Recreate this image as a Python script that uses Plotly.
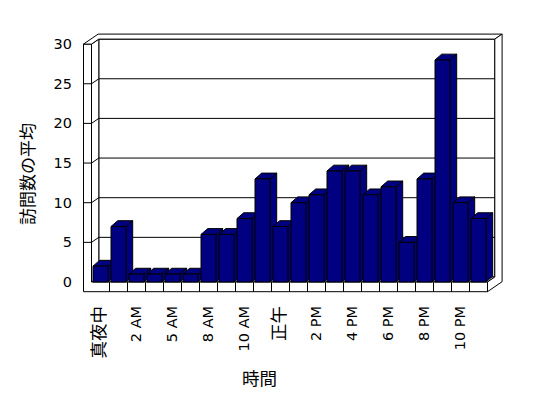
import plotly.graph_objects as go

# ---------------- data ----------------
categories = ["真夜中", "1 AM", "2 AM", "3 AM", "5 AM", "6 AM", "8 AM", "9 AM",
              "10 AM", "11 AM", "正午", "1 PM", "2 PM", "3 PM", "4 PM", "5 PM",
              "6 PM", "7 PM", "8 PM", "9 PM", "10 PM", "11 PM"]
visits = [2, 7, 1, 1, 1, 1, 6, 6, 8, 13, 7, 10, 11, 14, 14, 11, 12, 5, 13, 28, 10, 8]
y_ticks = [0, 5, 10, 15, 20, 25, 30]
x_title = "時間"
y_title = "訪問数の平均"

# ---------------- styling / geometry ----------------
BAR = "#000080"
EDGE = "black"
W, H = 548, 398
ML, MR, MT, MB = 81, 44, 32, 104
PX_CAT = 18.0            # pixels per category
PX_VAL = 7.93            # pixels per value unit
CAT0_PX = 100.5          # pixel centre of first category
ZERO_PX = 282.0          # pixel row of value 0 on the front plane

XL = (ML - CAT0_PX) / PX_CAT
XR = (W - MR - CAT0_PX) / PX_CAT
YT = (ZERO_PX - MT) / PX_VAL
YB = -((H - MB) - ZERO_PX) / PX_VAL

n = len(categories)
xs = list(range(n))
F0, F1 = -0.5, n - 0.5            # front plane extent
WL = F0 - 8 / PX_CAT              # left wall outer edge
FB = -9.7 / PX_VAL                # floor bottom
VT = max(y_ticks)                 # wall top
dx, dy = 7.3 / PX_CAT, 5.0 / PX_VAL        # wall depth
bdx, bdy = 6.7 / PX_CAT, 5.8 / PX_VAL      # bar depth
hw = 7.5 / PX_CAT                 # bar half width


def poly(pts, fill="white"):
    d = "M " + " L ".join(f"{x:.4f},{y:.4f}" for x, y in pts) + " Z"
    return dict(type="path", path=d, xref="x", yref="y", layer="below",
                fillcolor=fill, line=dict(color=EDGE, width=1))


def pline(pts):
    d = "M " + " L ".join(f"{x:.4f},{y:.4f}" for x, y in pts)
    return dict(type="path", path=d, xref="x", yref="y", layer="below",
                line=dict(color=EDGE, width=1))


shapes = []
shapes.append(poly([(F0 + dx, dy), (F1 + dx, dy), (F1 + dx, VT + dy), (F0 + dx, VT + dy)]))
shapes.append(poly([(F0, 0), (F1, 0), (F1 + dx, dy), (F0 + dx, dy)]))
shapes.append(poly([(F0, 0), (F0, VT), (F0 + dx, VT + dy), (F0 + dx, dy)]))
shapes.append(poly([(WL, FB), (WL, VT), (F0, VT), (F0, 0), (F1, 0), (F1, FB)]))
shapes.append(poly([(WL, VT), (F0, VT), (F0 + dx, VT + dy), (F1 + dx, VT + dy),
                    (F1 + 2 * dx, VT + 2 * dy), (WL + 2 * dx, VT + 2 * dy)]))
shapes.append(poly([(F1, 0), (F1, FB), (F1 + 2 * dx, FB + 2 * dy), (F1 + 2 * dx, VT + 2 * dy),
                    (F1 + dx, VT + dy), (F1 + dx, dy)]))
for v in y_ticks:
    if 0 < v < VT:
        shapes.append(pline([(WL, v), (F0, v), (F0 + dx, v + dy), (F1 + dx, v + dy)]))
for i in range(n - 1):
    shapes.append(pline([(i + 0.5, FB), (i + 0.5, 0)]))
for i, v in zip(xs, visits):
    shapes.append(poly([(i + hw, 0), (i + hw + bdx, bdy), (i + hw + bdx, v + bdy), (i + hw, v)], BAR))
    shapes.append(poly([(i - hw, v), (i + hw, v), (i + hw + bdx, v + bdy), (i - hw + bdx, v + bdy)], BAR))


def lab(t):
    if any(ord(c) > 0x3000 for c in t):
        return f'<span style="font-size:17.5px;fill:black">{t}</span>'
    return t


fig = go.Figure()
fig.add_trace(go.Bar(x=xs, y=visits, width=2 * hw,
                     marker=dict(color=BAR, line=dict(color=EDGE, width=1)),
                     hoverinfo="skip"))

FONT = "DejaVu Sans, Noto Sans CJK JP, sans-serif"
fig.update_layout(
    template="none",
    width=W, height=H,
    margin=dict(l=ML, r=MR, t=MT, b=MB, pad=0),
    paper_bgcolor="white", plot_bgcolor="white",
    showlegend=False,
    font=dict(family=FONT, size=14.5, color="black"),
    shapes=shapes,
    xaxis=dict(range=[XL, XR], showgrid=False, zeroline=False, showline=False,
               automargin=False,
               ticks="", tickangle=-90, tickmode="array",
               tickvals=xs[::2], ticktext=[lab(c) for c in categories[::2]],
               tickfont=dict(family=FONT, size=14.5, color="black"),
               ticklabelstandoff=8),
    yaxis=dict(range=[YB, YT], showgrid=False, zeroline=False, showline=False,
               automargin=False,
               ticks="", tickmode="array", tickvals=y_ticks,
               ticktext=[str(v) for v in y_ticks],
               tickfont=dict(family=FONT, size=14.5, color="black"),
               ticklabelstandoff=8),
    annotations=[
        dict(text=y_title, xref="paper", yref="paper",
             x=(26 - ML) / (W - ML - MR), y=((H - MB) - 174) / (H - MT - MB),
             xanchor="center", yanchor="middle", textangle=-90, showarrow=False,
             font=dict(family="Noto Sans CJK JP", size=17, color="black")),
        dict(text=x_title, xref="paper", yref="paper",
             x=(259 - ML) / (W - ML - MR), y=((H - MB) - 377) / (H - MT - MB),
             xanchor="center", yanchor="middle", showarrow=False,
             font=dict(family="Noto Sans CJK JP", size=17.5, color="black")),
    ],
)

fig.write_html("out.html", config={"displayModeBar": False},
               post_script="document.body.style.margin='0';")
